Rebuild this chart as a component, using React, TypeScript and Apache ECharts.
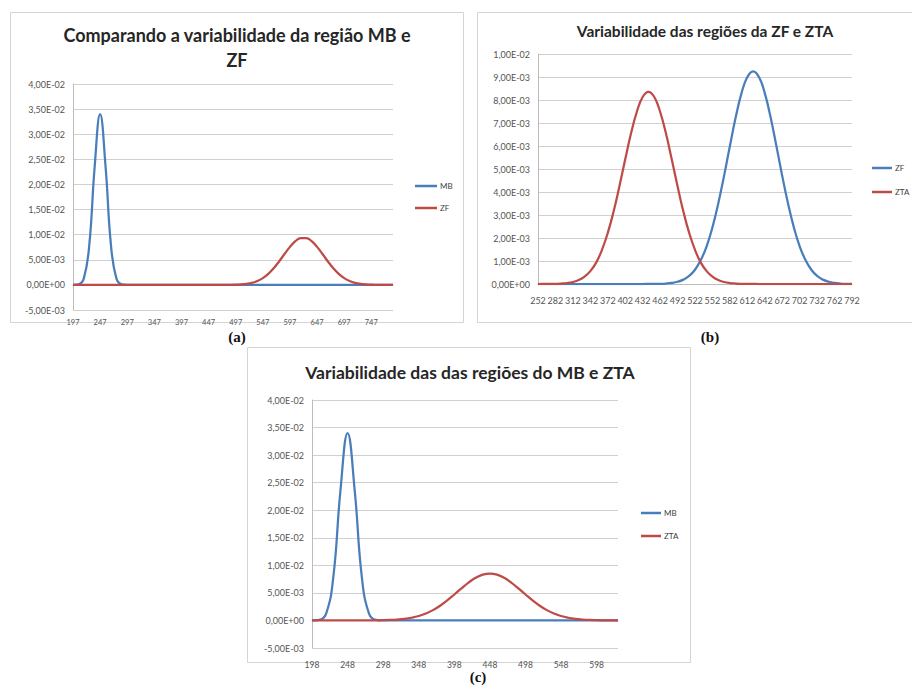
import React, { useEffect, useRef } from 'react';
import * as echarts from 'echarts';

const BLUE = '#4A7EBB';
const RED = '#BE4B48';
const FONT = 'Lato, "Open Sans", sans-serif';

// ---------- (a) MB vs ZF ----------
const catA = [
  197, 207, 217, 227, 237, 247, 257, 267, 277, 287,
  297, 307, 317, 327, 337, 347, 357, 367, 377, 387,
  397, 407, 417, 427, 437, 447, 457, 467, 477, 487,
  497, 507, 517, 527, 537, 547, 557, 567, 577, 587,
  597, 607, 617, 627, 637, 647, 657, 667, 677, 687,
  697, 707, 717, 727, 737, 747, 757, 767, 777, 787,
];
const mbA = [
  0, 0.0001, 0.0013, 0.0079, 0.0236, 0.034, 0.0236, 0.0079, 0.0013, 0.0001,
  0, 0, 0, 0, 0, 0, 0, 0, 0, 0,
  0, 0, 0, 0, 0, 0, 0, 0, 0, 0,
  0, 0, 0, 0, 0, 0, 0, 0, 0, 0,
  0, 0, 0, 0, 0, 0, 0, 0, 0, 0,
  0, 0, 0, 0, 0, 0, 0, 0, 0, 0,
];
const zfA = [
  0, 0, 0, 0, 0, 0, 0, 0, 0, 0,
  0, 0, 0, 0, 0, 0, 0, 0, 0, 0,
  0, 0, 0, 0, 0, 0, 0, 0.000002, 0.000007, 0.000017,
  0.000042, 0.000096, 0.00021, 0.00041, 0.00077, 0.00134, 0.00218, 0.0033, 0.00466, 0.00615,
  0.00757, 0.0087, 0.00932, 0.00932, 0.0087, 0.00757, 0.00615, 0.00466, 0.0033, 0.00218,
  0.00134, 0.00077, 0.00041, 0.00021, 0.000096, 0.000042, 0.000017, 0.000007, 0.000002, 0,
];

// ---------- (b) ZF vs ZTA ----------
const catB = [
  252, 262, 272, 282, 292, 302, 312, 322, 332, 342,
  352, 362, 372, 382, 392, 402, 412, 422, 432, 442,
  452, 462, 472, 482, 492, 502, 512, 522, 532, 542,
  552, 562, 572, 582, 592, 602, 612, 622, 632, 642,
  652, 662, 672, 682, 692, 702, 712, 722, 732, 742,
  752, 762, 772, 782, 792,
];
const zfB = [
  0, 0, 0, 0, 0, 0, 0, 0, 0, 0,
  0, 0, 0, 0, 0, 0, 0, 0, 0, 0.000001,
  0.000004, 0.000009, 0.000021, 0.000046, 0.000096, 0.00019, 0.00035, 0.00062, 0.00104, 0.00164,
  0.00246, 0.0035, 0.0047, 0.006, 0.00725, 0.0083, 0.009, 0.00925, 0.009, 0.0083,
  0.00725, 0.006, 0.0047, 0.0035, 0.00246, 0.00164, 0.00104, 0.00062, 0.00035, 0.00019,
  0.000096, 0.000046, 0.000021, 0.000009, 0.000004,
];
const ztaB = [
  0, 0.000001, 0.000003, 0.000008, 0.000019, 0.000042, 0.000087, 0.00017, 0.00032, 0.00056,
  0.00093, 0.00148, 0.00222, 0.00315, 0.00425, 0.00542, 0.00655, 0.00749, 0.00813, 0.00835,
  0.00813, 0.00749, 0.00655, 0.00542, 0.00425, 0.00315, 0.00222, 0.00148, 0.00093, 0.00056,
  0.00032, 0.00017, 0.000087, 0.000042, 0.000019, 0.000008, 0.000003, 0.000001, 0, 0,
  0, 0, 0, 0, 0, 0, 0, 0, 0, 0,
  0, 0, 0, 0, 0,
];

// ---------- (c) MB vs ZTA ----------
const catC = [
  198, 208, 218, 228, 238, 248, 258, 268, 278, 288,
  298, 308, 318, 328, 338, 348, 358, 368, 378, 388,
  398, 408, 418, 428, 438, 448, 458, 468, 478, 488,
  498, 508, 518, 528, 538, 548, 558, 568, 578, 588,
  598, 608, 618, 628,
];
const mbC = [
  0, 0.0001, 0.0013, 0.0079, 0.0236, 0.034, 0.0236, 0.0079, 0.0013, 0.0001,
  0, 0, 0, 0, 0, 0, 0, 0, 0, 0,
  0, 0, 0, 0, 0, 0, 0, 0, 0, 0,
  0, 0, 0, 0, 0, 0, 0, 0, 0, 0,
  0, 0, 0, 0,
];
const ztaC = [
  0, 0, 0, 0, 0, 0, 0.000002, 0.000004, 0.000009, 0.00002,
  0.000042, 0.000083, 0.00016, 0.00028, 0.00049, 0.0008, 0.00125, 0.00187, 0.00267, 0.00363,
  0.00471, 0.00582, 0.00687, 0.00773, 0.0083, 0.0085, 0.0083, 0.00773, 0.00687, 0.00582,
  0.00471, 0.00363, 0.00267, 0.00187, 0.00125, 0.0008, 0.00049, 0.00028, 0.00016, 0.000083,
  0.000042, 0.00002, 0.000009, 0.000004,
];

const titleA = 'Comparando a variabilidade da região MB e\nZF';
const titleB = 'Variabilidade das regiões da ZF e ZTA';
const titleC = 'Variabilidade das das regiões do MB e ZTA';

const sci = (v: number): string => {
  if (Math.abs(v) < 1e-12) return '0,00E+00';
  const parts = v.toExponential(2).split('e');
  const n = parseInt(parts[1], 10);
  const es = (n < 0 ? '-' : '+') + String(Math.abs(n)).padStart(2, '0');
  return parts[0].replace('.', ',') + 'E' + es;
};

const GRID_COLOR = '#d0d0d0';
const AXIS_COLOR = '#bcbcbc';
const LABEL_COLOR = '#555555';

const makeX = (gridIndex: number, data: number[], interval: number, fontSize: number, margin: number) => ({
  type: 'category',
  gridIndex,
  data: data.map(String),
  boundaryGap: false,
  axisLine: { onZero: true, lineStyle: { color: AXIS_COLOR, width: 1 } },
  axisTick: { show: false },
  splitLine: { show: false },
  axisLabel: { interval, fontSize, margin, color: LABEL_COLOR, fontFamily: FONT, hideOverlap: false },
});

const makeY = (gridIndex: number, min: number, max: number, interval: number) => ({
  type: 'value',
  gridIndex,
  min,
  max,
  interval,
  axisLine: { show: true, lineStyle: { color: AXIS_COLOR, width: 1 } },
  axisTick: { show: false },
  splitLine: { show: true, lineStyle: { color: GRID_COLOR, width: 1 } },
  axisLabel: { fontSize: 9, margin: 8, color: LABEL_COLOR, fontFamily: FONT, formatter: sci },
});

const line = (name: string, data: number[], color: string, idx: number) => ({
  name,
  type: 'line',
  xAxisIndex: idx,
  yAxisIndex: idx,
  data,
  smooth: 0.45,
  symbol: 'none',
  lineStyle: { color, width: 2.25 },
  itemStyle: { color },
});

const legend = (left: number, top: number, w: number, gap: number, items: { name: string; color: string }[]) => ({
  orient: 'vertical',
  left,
  top,
  padding: 0,
  itemWidth: w,
  itemHeight: 2.5,
  itemGap: gap,
  icon: 'rect',
  selectedMode: false,
  textStyle: { fontSize: 8, lineHeight: 10, color: '#404040', fontFamily: FONT, padding: [0, 0, 0, -2] },
  data: items.map((it) => ({ name: it.name, itemStyle: { color: it.color } })),
});

export default function App() {
  const ref = useRef<HTMLDivElement>(null);
  useEffect(() => {
    if (!ref.current) return;
    const chart = echarts.init(ref.current, undefined, { renderer: 'svg' });
    chart.setOption({
      animation: false,
      backgroundColor: '#ffffff',
      title: [
        {
          text: titleA, left: 237, top: 22, textAlign: 'center', padding: 0,
          textStyle: { fontSize: 18, fontWeight: 'bold', lineHeight: 25, color: '#262626', fontFamily: FONT },
        },
        {
          text: titleB, left: 705, top: 22, textAlign: 'center', padding: 0,
          textStyle: { fontSize: 15.5, fontWeight: 'bold', lineHeight: 18, color: '#262626', fontFamily: FONT },
        },
        {
          text: titleC, left: 470, top: 361, textAlign: 'center', padding: 0,
          textStyle: { fontSize: 17.5, fontWeight: 'bold', lineHeight: 22, color: '#262626', fontFamily: FONT },
        },
      ],
      legend: [
        legend(415, 181, 22, 12, [{ name: 'MB', color: BLUE }, { name: 'ZF', color: RED }]),
        legend(872, 163, 20, 14, [{ name: 'ZF', color: BLUE }, { name: 'ZTA', color: RED }]),
        legend(641, 508, 20, 13, [{ name: 'MB', color: BLUE }, { name: 'ZTA', color: RED }]),
      ],
      grid: [
        { left: 73, top: 84, width: 320, height: 226 },
        { left: 538, top: 54, width: 314, height: 230 },
        { left: 312, top: 400, width: 306, height: 248 },
      ],
      xAxis: [
        makeX(0, catA, 4, 7.5, 8),
        makeX(1, catB, 2, 9, 12),
        makeX(2, catC, 4, 8.5, 12),
      ],
      yAxis: [
        makeY(0, -0.005, 0.04, 0.005),
        makeY(1, 0, 0.01, 0.001),
        makeY(2, -0.005, 0.04, 0.005),
      ],
      series: [
        line('MB', mbA, BLUE, 0),
        line('ZF', zfA, RED, 0),
        line('ZF', zfB, BLUE, 1),
        line('ZTA', ztaB, RED, 1),
        line('MB', mbC, BLUE, 2),
        line('ZTA', ztaC, RED, 2),
      ],
      graphic: [
        { type: 'rect', shape: { x: 10.5, y: 12.5, width: 453, height: 310 }, style: { fill: 'none', stroke: '#d4d4d4', lineWidth: 1 } },
        { type: 'rect', shape: { x: 477.5, y: 12.5, width: 440, height: 310 }, style: { fill: 'none', stroke: '#d4d4d4', lineWidth: 1 } },
        { type: 'rect', shape: { x: 247.5, y: 347.5, width: 443, height: 315 }, style: { fill: 'none', stroke: '#d4d4d4', lineWidth: 1 } },
        { type: 'text', x: 237, y: 337, style: { text: '(a)', fontSize: 15, fontWeight: 'bold', fontFamily: '"Liberation Serif", serif', fill: '#111', align: 'center', verticalAlign: 'middle' } },
        { type: 'text', x: 710, y: 337, style: { text: '(b)', fontSize: 15, fontWeight: 'bold', fontFamily: '"Liberation Serif", serif', fill: '#111', align: 'center', verticalAlign: 'middle' } },
        { type: 'text', x: 478, y: 677, style: { text: '(c)', fontSize: 15, fontWeight: 'bold', fontFamily: '"Liberation Serif", serif', fill: '#111', align: 'center', verticalAlign: 'middle' } },
      ],
    });
    return () => chart.dispose();
  }, []);
  return <div ref={ref} style={{ position: 'absolute', left: 0, top: 0, width: 912, height: 686 }} />;
}
